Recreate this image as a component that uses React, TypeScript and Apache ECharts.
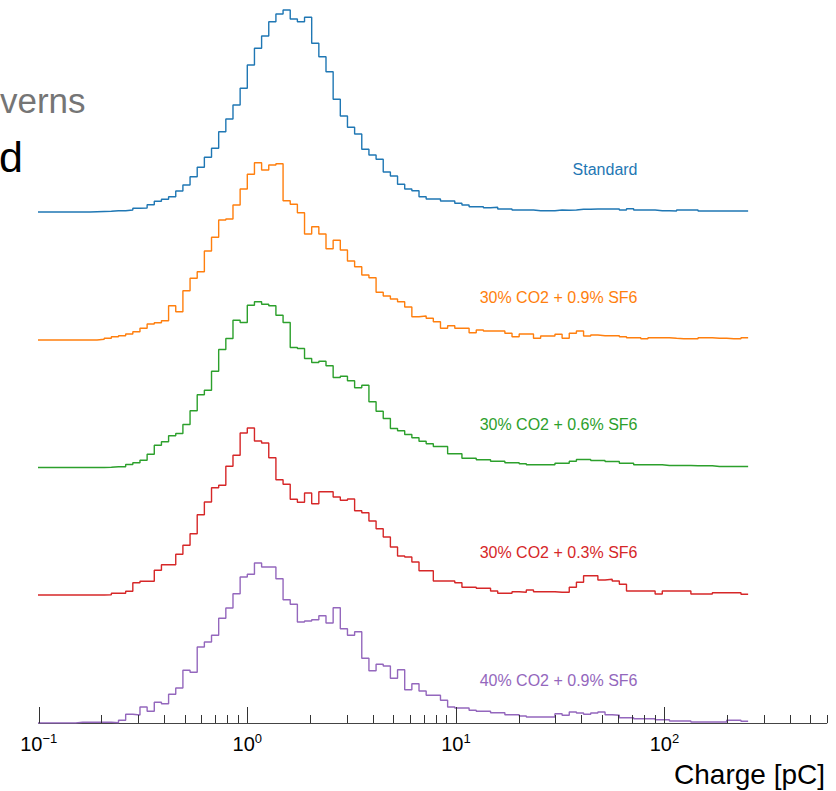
import React, { useEffect, useRef } from 'react';
import * as echarts from 'echarts';

const FONT = '"Liberation Sans", Arial, Helvetica, sans-serif';

const SERIES_NAMES = [
  'Standard',
  '30% CO2 + 0.9% SF6',
  '30% CO2 + 0.6% SF6',
  '30% CO2 + 0.3% SF6',
  '40% CO2 + 0.9% SF6',
];
const COLORS = ['#1f77b4', '#ff7f0e', '#2ca02c', '#d62728', '#9467bd'];
// vertical offsets of each stacked histogram (arbitrary count units)
const OFFSETS = [511, 383, 255.5, 128, 0];

// log-spaced histogram binning
const BIN_LOG_START = -1.029;
const BIN_LOG_WIDTH = 0.0343;
const BIN_COUNT = 100;

const STANDARD = [
  0, 0, 0, 0, 0, 0, 0, 0,
  0.3, 0.5, 0.7, 1.3, 1.3, 2, 3.7, 4, 7.3, 10.7, 12.7, 15.3, 21, 27, 35.3, 44.7, 54.7, 63.7, 80.3, 93, 107, 123.7,
  147, 163.7, 176, 190.3, 198, 202, 193, 190.3, 194.7, 168.7, 155.3, 140.3, 112.7, 96, 84.7, 78, 62.7, 57, 52.7, 40, 36, 27.7, 23, 21.3, 15.3,
  13, 13, 11, 11, 8.7, 7, 5.3, 5.3, 4.3, 4.7, 3, 3, 2, 2, 2, 1.3, 1.3, 1.3, 2, 1.7, 2, 2.7, 2.7, 3, 3,
  3, 3, 2, 3.3, 2, 2, 2, 1.3, 1.3, 1, 2, 2, 2, 1, 1, 1, 1, 1, 1, 1,
];
const CO2_30_SF6_09 = [
  0, 0, 0, 0, 0, 0, 0, 0,
  0, 0.7, 1.7, 3.3, 4.3, 6, 8.3, 11.7, 16, 17.3, 19.3, 34.3, 28.3, 49.3, 61.7, 68.3, 89, 102.7, 120, 121, 135, 151,
  165.7, 177.3, 170, 175, 176.3, 139.3, 135.7, 127.3, 106, 113.3, 106, 91.3, 99.7, 90, 79, 73.3, 65, 62.3, 47.7, 44, 41, 38.3, 33, 23.3, 24,
  21.7, 18.3, 11.7, 14.3, 11.7, 11.7, 7.3, 10, 9, 9, 9, 6.7, 3.3, 6, 6, 1.7, 4, 4, 5.7, 1.7,
  6.7, 9, 4, 5, 4.3, 4.3, 4.3, 3.3, 2.3, 2.3, 1.3, 2.3, 2.3, 2.3, 1.7, 1.3, 1.3, 1.3, 2.3, 2.3, 1.7, 1.7, 1.3, 1.3, 2.3,
];
const CO2_30_SF6_06 = [
  0, 0, 0, 0, 0, 0, 0, 0,
  0, 0, 0.3, 0.7, 0.7, 3, 4.7, 7.3, 13.3, 22.3, 25.7, 31.7, 34, 43, 56.7, 72.7, 77.3, 96.3, 118, 129, 147.3, 145,
  162.3, 165.7, 163.3, 161.7, 152.3, 145, 120, 119, 109, 105, 106.3, 101.7, 90, 91.3, 86.7, 79.7, 82.3, 65.7, 56.3, 49, 39, 36.7, 33, 29.7, 26.3,
  23.7, 21, 21, 13.7, 13.7, 9.3, 9.3, 7.7, 7.7, 6.3, 6.3, 4.7, 4.7, 3.7, 2.7, 2.7, 2.7, 2.7, 4.3, 4.3,
  6.3, 8, 8, 7, 7, 6, 6, 4.3, 4.3, 2.7, 2.7, 2.7, 2.7, 2, 2, 2, 2, 1.7, 1.7, 1.7, 1, 1, 1, 1, 1,
];
const CO2_30_SF6_03 = [
  0, 0, 0, 0, 0, 0, 0, 0,
  0, 0, 0.3, 1.7, 1.7, 3.7, 12.3, 13.7, 13.7, 24.7, 30.3, 30.3, 40.7, 49.7, 61.3, 80.3, 93, 107.3, 109.7, 128.7, 139.7, 162,
  167, 154, 152, 137.3, 115.3, 110.7, 95.7, 92.7, 102, 91.3, 103.3, 103.3, 98, 94.7, 96, 84.3, 82.3, 74, 66.3, 58, 48, 39, 38, 33, 24.3,
  24.3, 14, 14, 14, 12.3, 7.7, 7.7, 6.7, 6.7, 4, 1.7, 1.7, 3.3, 2.7, 5, 3.3, 3.3, 3.3, 2.7, 2.7,
  7.7, 12.7, 19.3, 19.3, 15, 15.7, 14, 10.7, 4, 4, 4, 4, 1, 4, 4, 4, 4, 1, 1, 1, 2.3, 2.3, 2.3, 2.3, 0.7,
];
const CO2_40_SF6_09 = [
  0, 0, 0, 0, 0, 0, 0.7, 0.7,
  0.7, 0.7, 0.7, 0.3, 2.7, 8.7, 8, 16, 11.7, 20.7, 19.3, 28.7, 35, 52.7, 50.7, 76, 81, 87.7, 104.7, 115, 129.3, 146,
  148.7, 160, 156, 156, 144.3, 123.3, 118.7, 101, 102, 103.3, 107.3, 100, 115.3, 94.3, 87.7, 91.3, 64.7, 52.3, 58.7, 57, 44.7, 53.3, 33.3, 39.3, 32,
  27.7, 27.7, 22.7, 16, 15, 15, 12.7, 11.7, 11.7, 10.3, 10.3, 8.3, 8.3, 7, 6, 6, 6, 6, 9.3, 7.7,
  11, 10, 8.7, 10, 11, 8.3, 7.7, 5.3, 5.3, 4.3, 4.3, 4.3, 3.3, 3.3, 2, 2, 2, 1, 1, 1, 1, 1, 2.7, 2.7, 1.7,
];
const HISTOGRAMS = [STANDARD, CO2_30_SF6_09, CO2_30_SF6_06, CO2_30_SF6_03, CO2_40_SF6_09];

const X_MIN = 0.1;
const X_MAX = 600;
const Y_MAX = 723;
const MAJOR_TICKS = [0.1, 1, 10, 100];
const MINOR_TICKS = [
  0.2, 0.3, 0.4, 0.5, 0.6, 0.7, 0.8, 0.9,
  2, 3, 4, 5, 6, 7, 8, 9,
  20, 30, 40, 50, 60, 70, 80, 90,
  200, 300, 400, 500, 600,
];
const X_TITLE = 'Charge [pC]';
const CLIPPED_TITLE_1 = 'verns';
const CLIPPED_TITLE_2 = 'd';

const BIN_EDGES = Array.from({ length: BIN_COUNT + 1 }, (_, i) =>
  Math.pow(10, BIN_LOG_START + BIN_LOG_WIDTH * i)
);

function histData(values: number[], offset: number) {
  const pts: number[][] = values.map((v, i) => [BIN_EDGES[i], offset + v]);
  pts.push([BIN_EDGES[values.length], offset + values[values.length - 1]]);
  return pts;
}

function tickSeries(values: number[], len: number) {
  return {
    type: 'custom',
    coordinateSystem: 'cartesian2d',
    silent: true,
    clip: false,
    z: 5,
    data: values.map((v) => [v, 0]),
    renderItem: (params: any, api: any) => {
      const p = api.coord([api.value(0), api.value(1)]);
      const x = Math.round(p[0]) + 0.5;
      return {
        type: 'line',
        shape: { x1: x, y1: p[1], x2: x, y2: p[1] - len },
        style: { stroke: '#333', lineWidth: 1 },
      };
    },
  };
}

export default function App() {
  const ref = useRef<HTMLDivElement>(null);

  useEffect(() => {
    if (!ref.current) return;
    const chart = echarts.init(ref.current, null, { renderer: 'svg' });

    const lineSeries = HISTOGRAMS.map((h, i) => ({
      name: SERIES_NAMES[i],
      type: 'line',
      step: 'end',
      showSymbol: false,
      symbol: 'none',
      clip: true,
      silent: true,
      data: histData(h, OFFSETS[i]),
      lineStyle: { color: COLORS[i], width: 1.4 },
      itemStyle: { color: COLORS[i] },
      z: 2,
    }));

    chart.setOption({
      animation: false,
      backgroundColor: '#ffffff',
      grid: { left: 38.7, right: 9.2, top: 0, bottom: 68, containLabel: false },
      xAxis: {
        type: 'log',
        logBase: 10,
        min: X_MIN,
        max: X_MAX,
        axisLine: { show: true, lineStyle: { color: '#444', width: 1 } },
        axisTick: { show: false },
        splitLine: { show: false },
        minorTick: { show: false },
        axisLabel: {
          show: true,
          margin: 9,
          showMaxLabel: false,
          formatter: (v: number) => {
            const e = Math.round(Math.log10(v));
            const s = e < 0 ? '\u2212' + String(-e) : String(e);
            return '{b|10}{s|' + s + '}';
          },
          rich: {
            b: { fontSize: 20, fontFamily: FONT, color: '#000', lineHeight: 24 },
            s: { fontSize: 13, fontFamily: FONT, color: '#000', lineHeight: 14, verticalAlign: 'top' },
          },
        },
      },
      yAxis: {
        type: 'value',
        min: 0,
        max: Y_MAX,
        show: false,
        splitLine: { show: false },
      },
      series: [...lineSeries, tickSeries(MAJOR_TICKS, 16), tickSeries(MINOR_TICKS, 8)],
    });

    const labelGraphics = SERIES_NAMES.map((name, i) => {
      const y = chart.convertToPixel({ yAxisIndex: 0 }, OFFSETS[i]) as number;
      return {
        type: 'text',
        x: 637.5,
        y: y - 43,
        silent: true,
        style: {
          text: name,
          fill: COLORS[i],
          fontSize: 16,
          fontFamily: FONT,
          align: 'right',
          verticalAlign: 'middle',
        },
      };
    });

    chart.setOption({
      graphic: [
        ...labelGraphics,
        {
          type: 'text',
          x: 825,
          y: 774,
          silent: true,
          style: { text: X_TITLE, fill: '#000', fontSize: 28, fontFamily: FONT, align: 'right', verticalAlign: 'middle' },
        },
        {
          type: 'text',
          x: 0,
          y: 100.6,
          silent: true,
          style: { text: CLIPPED_TITLE_1, fill: '#757575', fontSize: 35, fontFamily: FONT, align: 'left', verticalAlign: 'middle' },
        },
        {
          type: 'text',
          x: -1,
          y: 156.5,
          silent: true,
          style: { text: CLIPPED_TITLE_2, fill: '#000', fontSize: 43, fontFamily: FONT, align: 'left', verticalAlign: 'middle' },
        },
      ],
    });

    return () => chart.dispose();
  }, []);

  return (
    <div
      ref={ref}
      style={{ position: 'fixed', left: 0, top: 0, width: 836, height: 791, background: '#fff' }}
    />
  );
}
